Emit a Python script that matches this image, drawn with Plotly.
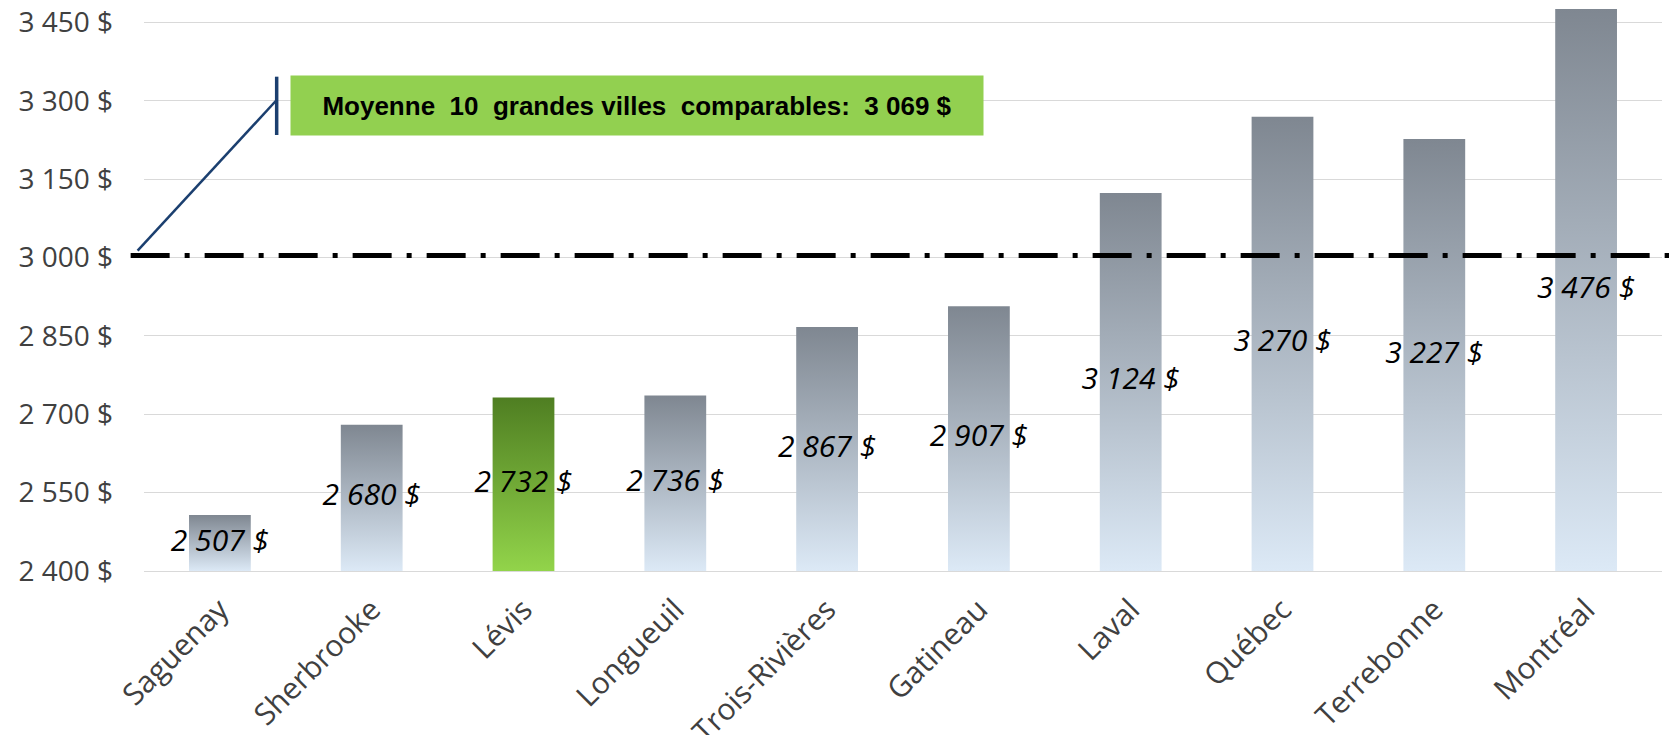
import plotly.graph_objects as go

# Données
villes = ['Saguenay', 'Sherbrooke', 'Lévis', 'Longueuil', 'Trois-Rivières',
          'Gatineau', 'Laval', 'Québec', 'Terrebonne', 'Montréal']
valeurs = [2507, 2680, 2732, 2736, 2867, 2907, 3124, 3270, 3227, 3476]
ville_vedette = 'Lévis'
ligne_reference = 3004
moyenne_texte = 'Moyenne\u00a0 10\u00a0 grandes villes\u00a0 comparables:\u00a0 3 069 $'
y_ticks = [2400, 2550, 2700, 2850, 3000, 3150, 3300, 3450]


def fmt(v):
    return f'{v:,}'.replace(',', ' ') + ' $'


y_min, y_max = 2400, 3478
demi_largeur = 0.2035

fig = go.Figure()

for i, (ville, v) in enumerate(zip(villes, valeurs)):
    if ville == ville_vedette:
        echelle = [[0, '#92d44a'], [1, '#4f7e22']]
    else:
        echelle = [[0, '#dce9f6'], [1, '#7f8791']]
    fig.add_trace(go.Scatter(
        x=[i - demi_largeur, i + demi_largeur, i + demi_largeur, i - demi_largeur, i - demi_largeur],
        y=[y_min, y_min, v, v, y_min],
        mode='lines',
        line=dict(width=0),
        fill='toself',
        fillgradient=dict(type='vertical', colorscale=echelle),
        hoverinfo='skip',
        showlegend=False
    ))

# étiquettes de valeurs, au milieu de la barre visible
fig.add_trace(go.Scatter(
    x=list(range(len(villes))),
    y=[(y_min + v) / 2 for v in valeurs],
    mode='text',
    text=[fmt(v) for v in valeurs],
    textfont=dict(family='Open Sans', size=30, color='black', style='italic'),
    cliponaxis=False,
    hoverinfo='skip',
    showlegend=False
))

# ligne de référence pointillée
fig.add_shape(type='line', xref='paper', yref='y', x0=-0.0088, x1=1.011,
              y0=ligne_reference, y1=ligne_reference,
              line=dict(color='black', width=5, dash='39px,15px,5px,15px'))

# bulle de légende
fig.add_shape(type='line', xref='paper', yref='paper', x0=0.0874, x1=0.0874,
              y0=0.7744, y1=0.878, line=dict(color='#1b3f6f', width=3.5))
fig.add_shape(type='line', xref='paper', yref='paper', x0=-0.0042, x1=0.0874,
              y0=0.5689, y1=0.8366, line=dict(color='#1b3f6f', width=2.5))
fig.add_annotation(
    xref='paper', yref='paper', x=0.325, y=0.8268,
    xanchor='center', yanchor='middle',
    text=f'<b>{moyenne_texte}</b>',
    showarrow=False, bgcolor='#92d050', borderpad=0,
    width=692, height=59,
    font=dict(family='Liberation Sans', size=26, color='black')
)

fig.update_layout(
    width=1677, height=735,
    margin=dict(l=136, r=23, t=0, b=172, pad=0),
    plot_bgcolor='white', paper_bgcolor='white',
    font=dict(family='Open Sans', color='#404040'),
    xaxis=dict(
        range=[-0.5, len(villes) - 0.5],
        tickvals=list(range(len(villes))),
        ticktext=villes,
        tickangle=-45,
        tickfont=dict(size=30, color='#404040'),
        showgrid=False, zeroline=False,
        showline=True, linecolor='#d9d9d9', linewidth=1,
        ticks='', ticklabelstandoff=8, automargin=False,
        ticklabeloverflow='allow'
    ),
    yaxis=dict(
        range=[y_min, y_max],
        tickvals=y_ticks,
        ticktext=[fmt(t) for t in y_ticks],
        tickfont=dict(size=28, color='#404040'),
        showgrid=True, gridcolor='#d9d9d9', gridwidth=1,
        zeroline=False, ticks='', ticklabelstandoff=30, automargin=False,
        ticklabeloverflow='allow'
    )
)

fig.write_html('out.html')
